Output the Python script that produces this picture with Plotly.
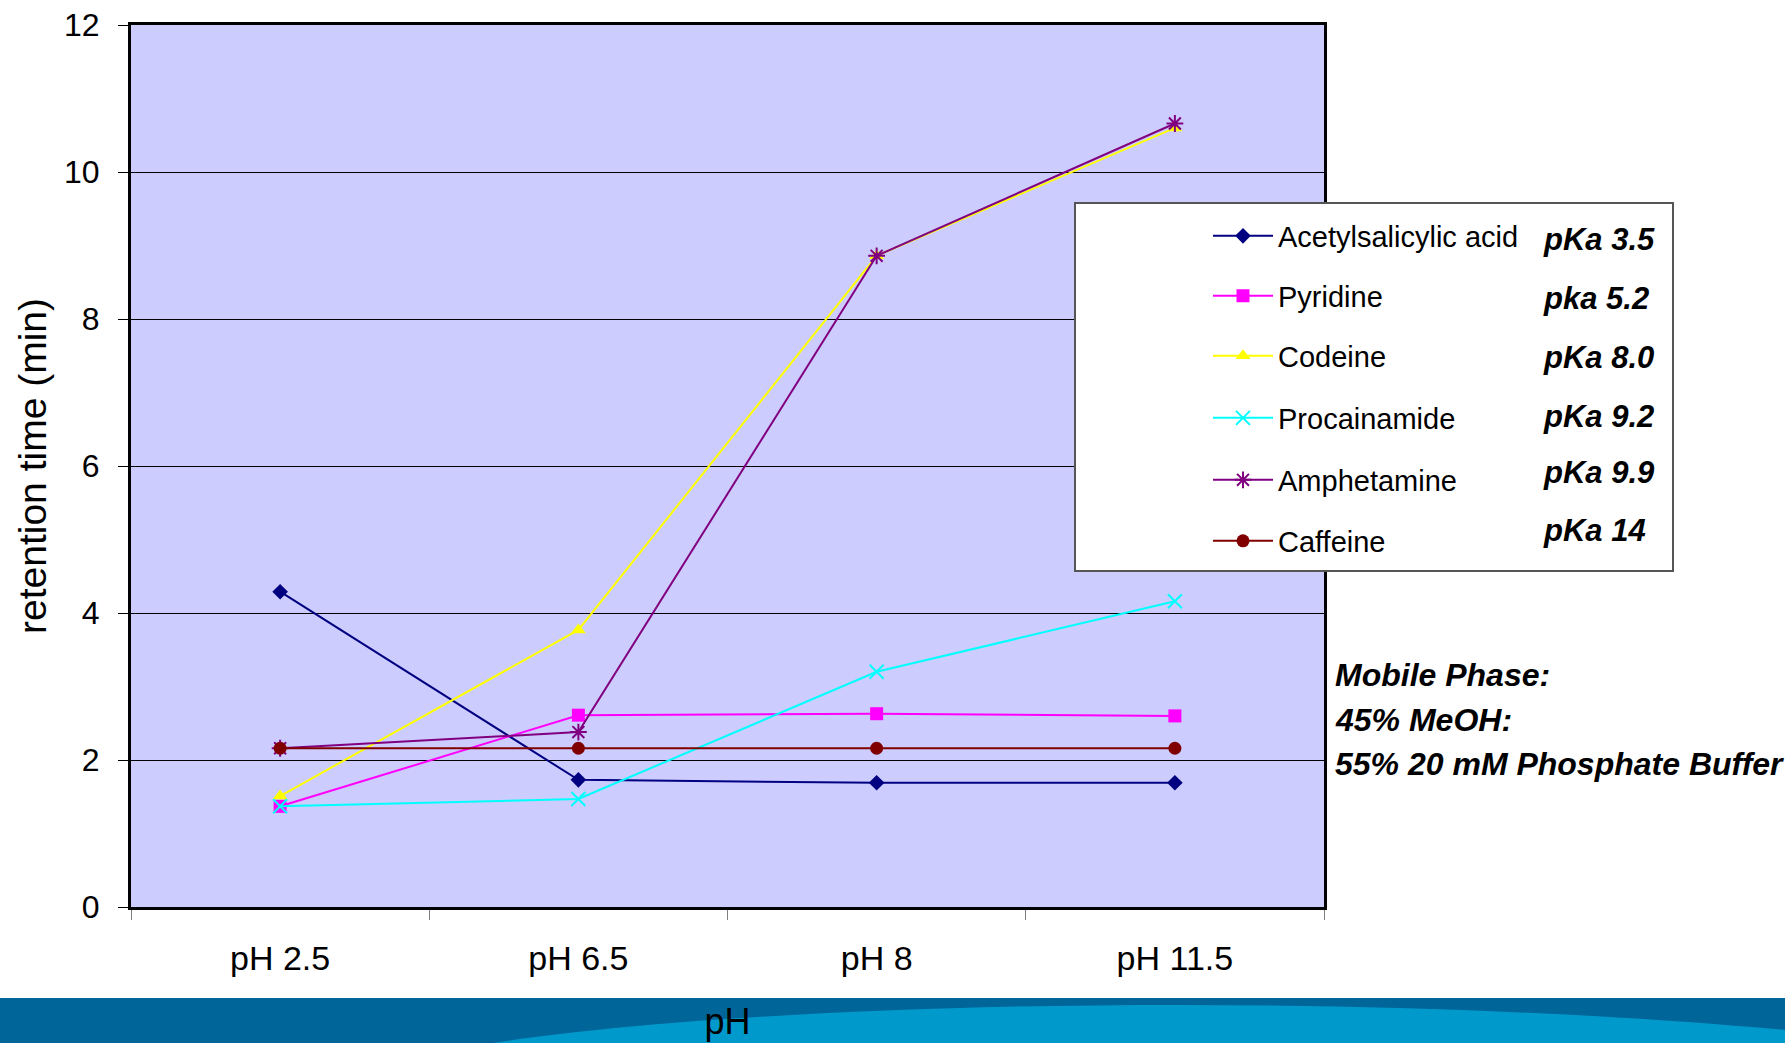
import plotly.graph_objects as go

# Retention time (min) of six compounds at four mobile-phase pH values
categories = ["pH 2.5", "pH 6.5", "pH 8", "pH 11.5"]

acetylsalicylic_acid = [4.29, 1.73, 1.69, 1.69]
pyridine = [1.37, 2.61, 2.63, 2.60]
codeine = [1.51, 3.77, 8.86, 10.60]
procainamide = [1.37, 1.47, 3.20, 4.16]
amphetamine = [2.16, 2.38, 8.86, 10.66]
caffeine = [2.16, 2.16, 2.16, 2.16]

compound_names = ["Acetylsalicylic acid", "Pyridine", "Codeine",
                  "Procainamide", "Amphetamine", "Caffeine"]
pka_labels = ["pKa 3.5", "pka 5.2", "pKa 8.0", "pKa 9.2", "pKa 9.9", "pKa 14"]
mobile_phase = ["Mobile Phase:", "45% MeOH:", "55% 20 mM Phosphate Buffer"]

series = [acetylsalicylic_acid, pyridine, codeine, procainamide, amphetamine, caffeine]
colors = ["#000080", "#FF00FF", "#FFFF00", "#00FFFF", "#800080", "#800000"]
symbols = ["diamond", "square", "triangle-up", "x-thin-open", "asterisk-open", "circle"]
sizes = [12, 13, 13, 14, 14, 13]

# Figure geometry (pixels)
W, H = 1785, 1043
ML, MR, MT, MB = 131, 461, 25, 136
PW, PH = W - ML - MR, H - MT - MB


def px(x):
    return (x - ML) / PW


def py(y):
    return (H - MB - y) / PH


ARIAL = "Liberation Sans, Arial, sans-serif"

legend_ids = ["legend"] + [f"legend{i}" for i in range(2, 7)]
legend_rows = [236, 296, 356, 418, 480, 541]
pka_rows = [239, 298, 357, 416, 472, 530]
phase_rows = [675, 720, 764]

fig = go.Figure()
for i, (name, vals) in enumerate(zip(compound_names, series)):
    open_sym = symbols[i].endswith("open")
    fig.add_trace(go.Scatter(
        x=categories, y=vals, name=name, mode="lines+markers",
        legend=legend_ids[i],
        line=dict(color=colors[i], width=2),
        marker=dict(symbol=symbols[i], size=sizes[i], color=colors[i],
                    line=dict(color=colors[i], width=2 if open_sym else 0)),
    ))

shapes = []
# bottom banner
shapes.append(dict(type="rect", xref="paper", yref="paper", layer="below",
                   x0=px(0), x1=px(W), y0=py(998), y1=py(H + 2),
                   fillcolor="#006699", line=dict(width=0)))
pts = [(480, H + 2), (760, 1000), (1350, 990), (1785, 1030)]
p = [(px(a), py(b)) for a, b in pts]
path = (f"M{p[0][0]},{p[0][1]} C{p[1][0]},{p[1][1]} {p[2][0]},{p[2][1]} {p[3][0]},{p[3][1]} "
        f"L{px(W + 2)},{py(1030)} L{px(W + 2)},{py(H + 2)} Z")
shapes.append(dict(type="path", xref="paper", yref="paper", layer="below",
                   path=path, fillcolor="#0099CC", line=dict(width=0)))
# legend frame
shapes.append(dict(type="rect", xref="paper", yref="paper", layer="above",
                   x0=px(1075), x1=px(1673), y0=py(571), y1=py(203),
                   fillcolor="white", line=dict(color="#555555", width=2)))

pka_font = dict(family=ARIAL, size=31, color="black", weight="bold", style="italic")
phase_font = dict(family=ARIAL, size=32, color="black", weight="bold", style="italic")

annotations = []
for lab, yy in zip(pka_labels, pka_rows):
    annotations.append(dict(xref="paper", yref="paper", x=px(1541), y=py(yy),
                            xanchor="left", yanchor="middle", showarrow=False,
                            text=lab, font=pka_font))
for line_text, yy in zip(mobile_phase, phase_rows):
    annotations.append(dict(xref="paper", yref="paper", x=px(1333), y=py(yy),
                            xanchor="left", yanchor="middle", showarrow=False,
                            text=line_text, font=phase_font))

legend_layout = {}
for lid, yy in zip(legend_ids, legend_rows):
    legend_layout[lid] = dict(x=px(1208), y=py(yy), xanchor="left", yanchor="middle",
                              bgcolor="rgba(0,0,0,0)", borderwidth=0,
                              font=dict(family=ARIAL, size=29, color="black"),
                              itemwidth=60)

fig.update_layout(
    width=W, height=H,
    margin=dict(l=ML, r=MR, t=MT, b=MB, autoexpand=False),
    paper_bgcolor="white", plot_bgcolor="#CCCCFF",
    showlegend=True,
    xaxis=dict(type="category", categoryorder="array", categoryarray=categories,
               range=[-0.5, 3.5], tickson="boundaries",
               ticks="outside", ticklen=10, tickcolor="#808080", tickwidth=1,
               showline=True, linecolor="black", linewidth=3, mirror=True,
               showgrid=False, zeroline=False, ticklabelstandoff=19,
               tickfont=dict(family=ARIAL, size=34, color="black"),
               title=dict(text="pH", font=dict(family=ARIAL, size=36, color="black"),
                          standoff=34)),
    yaxis=dict(range=[0, 12], tick0=0, dtick=2,
               ticks="outside", ticklen=10, tickcolor="black", tickwidth=1,
               showline=True, linecolor="black", linewidth=3, mirror=True,
               showgrid=True, gridcolor="black", gridwidth=1, zeroline=False,
               ticklabelstandoff=12,
               tickfont=dict(family=ARIAL, size=32, color="black"),
               title=dict(text="retention time (min)",
                          font=dict(family=ARIAL, size=39, color="black"),
                          standoff=6)),
    shapes=shapes, annotations=annotations,
    **legend_layout,
)

fig.write_html("out.html")
